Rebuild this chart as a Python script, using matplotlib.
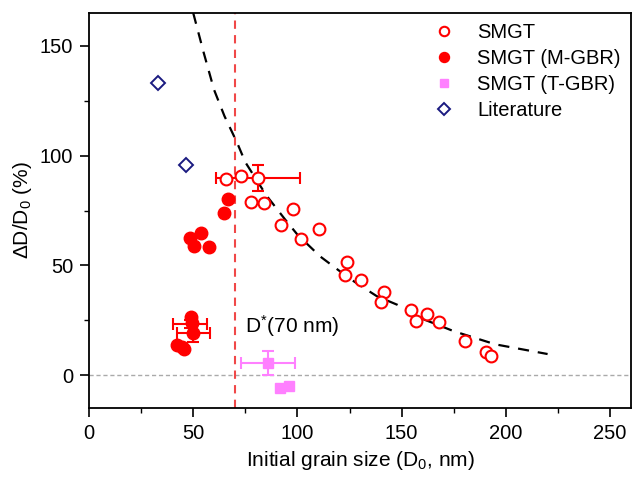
import matplotlib
matplotlib.use('Agg')
import matplotlib.pyplot as plt
import numpy as np

plt.rcParams['font.family'] = ['Liberation Sans', 'DejaVu Sans']
plt.rcParams['mathtext.default'] = 'regular'

# SMGT (open circles)
smgt_x = [65.9, 73.1, 80.9, 77.7, 84.0, 98.1, 92.3, 110.2, 101.8, 123.9, 122.6, 130.6,
          141.5, 139.9, 154.7, 156.7, 162.0, 167.9, 180.3, 190.4, 192.8]
smgt_y = [89.5, 90.9, 89.8, 79.1, 78.4, 75.7, 68.4, 66.5, 62.0, 51.7, 45.7, 43.4,
          38.0, 33.5, 29.5, 24.6, 27.7, 24.3, 15.7, 10.6, 8.8]
# error bar on one SMGT point
smgt_err_x = [80.9]
smgt_err_y = [89.8]
smgt_err_dx = [20.2]
smgt_err_dy = [5.9]

# SMGT (M-GBR) filled circles
mgbr_x = [66.7, 64.6, 48.6, 53.8, 50.5, 57.8, 48.8, 49.5, 50.0, 42.3, 45.7, 44.8]
mgbr_y = [80.2, 73.8, 62.7, 64.7, 58.9, 58.3, 26.5, 23.7, 19.2, 13.7, 11.9, 12.6]
mgbr_err_x = [48.5, 50.0]
mgbr_err_y = [23.3, 19.3]
mgbr_err_dx = [8.0, 8.0]
mgbr_err_dy = [2.0, 4.2]

# SMGT (T-GBR) squares
tgbr_x = [86.0, 91.5, 95.8]
tgbr_y = [5.5, -5.8, -5.0]
tgbr_err_dx = [13.0]
tgbr_err_dy = [5.5]

# Literature
lit_x = [33.0, 46.3]
lit_y = [133.2, 95.9]

# fitted curve
fit_x = [50, 55, 60, 65, 71, 75, 85, 94, 100, 111, 125, 138, 148, 159, 175, 195, 220]
fit_y = [165, 147, 130, 118, 106, 97, 82, 71, 64, 54, 44, 36, 32, 26, 20, 14, 9.6]

d_star = 70

fig = plt.figure(figsize=(6.33, 4.78), dpi=100)
ax = fig.add_axes([0.1406, 0.1464, 0.8562, 0.8264])

ax.axhline(0, color='#aaaaaa', lw=1, ls=(0, (3, 2)), zorder=1)
ax.axvline(d_star, color='#f04848', lw=1.5, ls=(0, (4, 3)), zorder=1)
ax.plot(fit_x, fit_y, color='black', lw=1.6, ls=(0, (5, 4)), zorder=2)

ax.errorbar(smgt_err_x, smgt_err_y, xerr=smgt_err_dx, yerr=smgt_err_dy, fmt='none',
            ecolor='red', elinewidth=1.5, capsize=4, capthick=1.5, zorder=3)
ax.errorbar(mgbr_err_x, mgbr_err_y, xerr=mgbr_err_dx, yerr=mgbr_err_dy, fmt='none',
            ecolor='red', elinewidth=1.5, capsize=4, capthick=1.5, zorder=3)
ax.errorbar(tgbr_x[:1], tgbr_y[:1], xerr=tgbr_err_dx, yerr=tgbr_err_dy, fmt='none',
            ecolor='#ff80ff', elinewidth=1.5, capsize=4, capthick=1.5, zorder=3)

ax.plot(smgt_x, smgt_y, 'o', ms=8.5, mfc='white', mec='red', mew=1.5, label='SMGT', zorder=4)
ax.plot(mgbr_x, mgbr_y, 'o', ms=9, mfc='red', mec='red', label='SMGT (M-GBR)', zorder=4)
ax.plot(tgbr_x, tgbr_y, 's', ms=6.5, mfc='#ff80ff', mec='#ff80ff', label='SMGT (T-GBR)', zorder=4)
ax.plot(lit_x, lit_y, 'D', ms=7.5, mfc='none', mec='#1a1a80', mew=1.4, label='Literature', zorder=4)

ax.text(75, 22.5, 'D$^{*}$(70 nm)', fontsize=15, va='center', ha='left')

ax.set_xlim(0, 260)
ax.set_ylim(-15, 165)
ax.set_xticks([0, 50, 100, 150, 200, 250])
ax.set_xticks(np.arange(25, 260, 50), minor=True)
ax.set_yticks([0, 50, 100, 150])
ax.set_yticks([25, 75, 125], minor=True)
ax.tick_params(which='major', direction='out', length=6.5, width=1.2, pad=5, labelsize=14.5)
ax.tick_params(which='minor', direction='out', length=3.5, width=1.0)
for s in ax.spines.values():
    s.set_linewidth(1.3)

ax.set_xlabel('Initial grain size (D$_0$, nm)', fontsize=15)
ax.set_ylabel('ΔD/D$_0$ (%)', fontsize=15)

ax.legend(loc='upper right', frameon=False, fontsize=14.5, markerscale=0.8,
          handletextpad=0.65, labelspacing=0.35, borderaxespad=0.1)

fig.savefig('out.png', dpi=100)
